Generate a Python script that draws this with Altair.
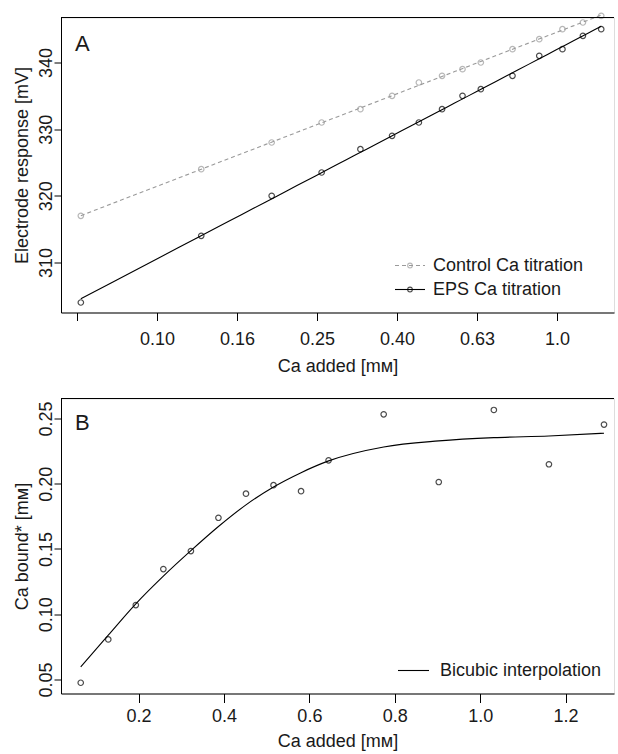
import altair as alt
import pandas as pd

# ---------------- data ----------------
ca_added = [0.0645, 0.129, 0.1935, 0.258, 0.3225, 0.387, 0.4515, 0.516, 0.5805,
            0.645, 0.774, 0.903, 1.032, 1.161, 1.29]
control_mv = [317, 324, 328, 331, 333, 335, 337, 338, 339, 340, 342, 343.5, 345, 346, 347]
eps_mv = [304, 314, 320, 323.5, 327, 329, 331, 333, 335, 336, 338, 341, 342, 344, 345]
ca_bound = [0.0475, 0.0807, 0.107, 0.1346, 0.1484, 0.1739, 0.1924, 0.1989, 0.1943,
            0.2179, 0.2532, 0.2013, 0.2565, 0.2149, 0.2453]
bicubic = [0.0597, 0.0840, 0.1080, 0.1292, 0.1487, 0.1672, 0.1838, 0.1975, 0.2085,
           0.2175, 0.2282, 0.2328, 0.2353, 0.2366, 0.2387]

a_xticks = [0.0631, 0.1, 0.1585, 0.2512, 0.3981, 0.6310, 1.0]
a_yticks = [310, 320, 330, 340]
b_xticks = [0.2, 0.4, 0.6, 0.8, 1.0, 1.2]
b_yticks = [0.05, 0.10, 0.15, 0.20, 0.25]
legend_a = ["Control Ca titration", "EPS Ca titration"]
legend_b = ["Bicubic interpolation"]
x_title = "Ca added [mᴍ]"
ya_title = "Electrode response [mV]"
yb_title = "Ca bound* [mᴍ]"

FONT = "Liberation Sans"
FS = 18
TXT = "#1a1a1a"
GREY = "#9a9a9a"
W, H = 553, 295

dfA = pd.DataFrame({"x": ca_added, "control": control_mv, "eps": eps_mv})
dfB = pd.DataFrame({"x": ca_added, "bound": ca_bound, "fit": bicubic})
one = pd.DataFrame({"k": [0]})


def xaxis(values, expr, label_pad, title_pad, tick):
    return alt.Axis(values=values, labelExpr=expr, title=x_title, grid=False,
                    tickSize=tick, tickColor="black", domainColor="black",
                    labelPadding=label_pad, titlePadding=title_pad,
                    labelFont=FONT, titleFont=FONT, labelFontSize=FS, titleFontSize=FS,
                    titleFontWeight="normal", labelColor=TXT, titleColor=TXT,
                    labelFlush=False, labelOverlap=False)


def yaxis(values, fmt, title):
    return alt.Axis(values=values, format=fmt, title=title, grid=False,
                    tickSize=7, tickColor="black", domainColor="black",
                    labelAngle=270, labelAlign="center", labelBaseline="alphabetic",
                    labelPadding=3, titlePadding=6,
                    labelFont=FONT, titleFont=FONT, labelFontSize=FS, titleFontSize=FS,
                    titleFontWeight="normal", labelColor=TXT, titleColor=TXT,
                    labelFlush=False, labelOverlap=False)


# ---------------- panel A ----------------
xA = alt.X("x:Q", scale=alt.Scale(type="log", domain=[0.05754, 1.3885], nice=False),
           axis=xaxis(a_xticks,
                      "datum.value < 0.07 ? '' : (datum.value < 0.9 ? format(datum.value, '.2f') : format(datum.value, '.1f'))",
                      10, 9, 8))
yA_scale = alt.Scale(domain=[302.5, 346.75], nice=False, zero=False)

baseA = alt.Chart(dfA)
ctrl_line = baseA.transform_regression("x", "control", method="log").mark_line(
    color=GREY, strokeDash=[4, 3], strokeWidth=1.1).encode(
    x=xA, y=alt.Y("control:Q", scale=yA_scale, axis=yaxis(a_yticks, "d", ya_title)))
ctrl_pts = baseA.mark_point(shape="circle", color=GREY, size=30, strokeWidth=1.2, filled=False).encode(
    x="x:Q", y="control:Q")
eps_line = baseA.transform_regression("x", "eps", method="log").mark_line(
    color="black", strokeWidth=1.1).encode(x="x:Q", y="eps:Q")
eps_pts = baseA.mark_point(shape="circle", color="black", size=30, strokeWidth=1.2, filled=False).encode(
    x="x:Q", y="eps:Q")


def frame_top():
    return alt.Chart(one).mark_rule(color="black", strokeWidth=1).encode(
        x=alt.value(0), x2=alt.value(W), y=alt.value(0))


def panel_letter(t, y):
    return alt.Chart(one).mark_text(font=FONT, fontSize=22, align="left", baseline="middle",
                                    color=TXT).encode(x=alt.value(14), y=alt.value(y), text=alt.value(t))


def leg_text(t, x, y):
    return alt.Chart(one).mark_text(font=FONT, fontSize=FS, align="left", baseline="middle",
                                    color=TXT).encode(x=alt.value(x), y=alt.value(y), text=alt.value(t))


legA = [
    alt.Chart(one).mark_rule(color=GREY, strokeDash=[4, 3], strokeWidth=1.1).encode(
        x=alt.value(334), x2=alt.value(364), y=alt.value(248)),
    alt.Chart(one).mark_point(shape="circle", color=GREY, size=22, strokeWidth=1.1, filled=False).encode(
        x=alt.value(349), y=alt.value(248)),
    leg_text(legend_a[0], 372, 248),
    alt.Chart(one).mark_rule(color="black", strokeWidth=1.1).encode(
        x=alt.value(334), x2=alt.value(364), y=alt.value(272)),
    alt.Chart(one).mark_point(shape="circle", color="black", size=22, strokeWidth=1.1, filled=False).encode(
        x=alt.value(349), y=alt.value(272)),
    leg_text(legend_a[1], 372, 272),
]

panelA = alt.layer(ctrl_line, ctrl_pts, eps_line, eps_pts, frame_top(), panel_letter("A", 26), *legA
                   ).properties(width=W, height=H)

# ---------------- panel B ----------------
xB = alt.X("x:Q", scale=alt.Scale(domain=[0.0183, 1.3134], nice=False, zero=False),
           axis=xaxis(b_xticks, "format(datum.value, '.1f')", 5, 7, 9))
yB_scale = alt.Scale(domain=[0.03926, 0.2653], nice=False, zero=False)
baseB = alt.Chart(dfB)
fit_line = baseB.mark_line(color="black", strokeWidth=1.1, interpolate="monotone").encode(
    x=xB, y=alt.Y("fit:Q", scale=yB_scale, axis=yaxis(b_yticks, ".2f", yb_title)))
bound_pts = baseB.mark_point(shape="circle", color="black", size=30, strokeWidth=1.2, filled=False).encode(
    x="x:Q", y="bound:Q")
legB = [
    alt.Chart(one).mark_rule(color="black", strokeWidth=1.1).encode(
        x=alt.value(337), x2=alt.value(368), y=alt.value(272)),
    leg_text(legend_b[0], 379, 272),
]
panelB = alt.layer(fit_line, bound_pts, frame_top(), panel_letter("B", 24.5), *legB
                   ).properties(width=W, height=H)

chart = alt.vconcat(panelA, panelB, spacing=21).properties(
    padding={"left": 12, "top": 9.5, "right": 0, "bottom": 4}
).configure_view(stroke=None).configure(background="white")

chart.save("out.html", embed_options={"renderer": "svg", "actions": False})
